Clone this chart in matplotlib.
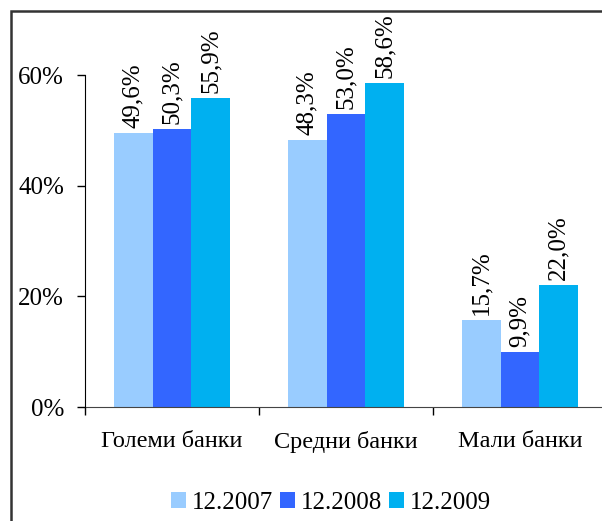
import matplotlib
matplotlib.use("Agg")
import matplotlib.pyplot as plt
from matplotlib.patches import Rectangle
import numpy as np

categories = ["Големи банки", "Средни банки", "Мали банки"]
series_names = ["12.2007", "12.2008", "12.2009"]
v2007 = [49.6, 48.3, 15.7]
v2008 = [50.3, 53.0, 9.9]
v2009 = [55.9, 58.6, 22.0]
series = [v2007, v2008, v2009]
colors = ["#99CCFF", "#3366FF", "#00B0F0"]
yticks = [0, 20, 40, 60]

plt.rcParams['font.family'] = ['Liberation Serif', 'DejaVu Serif']
FS = 18

fig = plt.figure(figsize=(6.02, 5.21), dpi=100)
ax = fig.add_axes([85/602, 1 - 407/521, 522/602, 332/521])

x = np.arange(len(categories))
w = (2/3) / 3
handles = []
for i, (vals, c) in enumerate(zip(series, colors)):
    pos = x + (i - 1) * w
    b = ax.bar(pos, vals, width=w, color=c, edgecolor='none', label=series_names[i], zorder=2)
    handles.append(b)
    for px, v in zip(pos, vals):
        ax.annotate(f"{v:.1f}%".replace('.', ','), (px, v), xytext=(0, 3.5),
                    textcoords='offset points', rotation=90, ha='center', va='bottom',
                    fontsize=FS, clip_on=False)

ax.set_xlim(-0.5, 2.5)
ax.set_ylim(0, 60)
ax.set_yticks(yticks)
ax.set_yticklabels([f"{t}%" for t in yticks], fontsize=FS)
ax.tick_params(axis='y', direction='out', length=6, width=1, pad=9)
ax.set_xticks([-0.5, 0.5, 1.5, 2.5])
ax.set_xticklabels([])
ax.set_xticks(x, minor=True)
ax.set_xticklabels(categories, minor=True, fontsize=17.5)
ax.tick_params(axis='x', which='major', direction='out', length=6, width=1)
ax.tick_params(axis='x', which='minor', length=0, pad=17)
for s in ['top', 'right']:
    ax.spines[s].set_visible(False)
ax.spines['left'].set_color('black')
ax.spines['bottom'].set_color('#444444')
ax.spines['left'].set_zorder(3)

leg = fig.legend(handles=handles, labels=series_names, loc='center',
                 bbox_to_anchor=(331/602, 1 - 503/521), ncol=3, frameon=False,
                 fontsize=FS, handlelength=0.6, handleheight=0.6, handletextpad=0.25,
                 columnspacing=0.25, borderpad=0.2)

frame = Rectangle((11/602, -0.2), 1.3, 1 - 11/521 + 0.2, transform=fig.transFigure,
                  fill=False, edgecolor='#333333', linewidth=1.8, clip_on=False)
fig.patches.append(frame)

fig.savefig("out.png", dpi=100)
